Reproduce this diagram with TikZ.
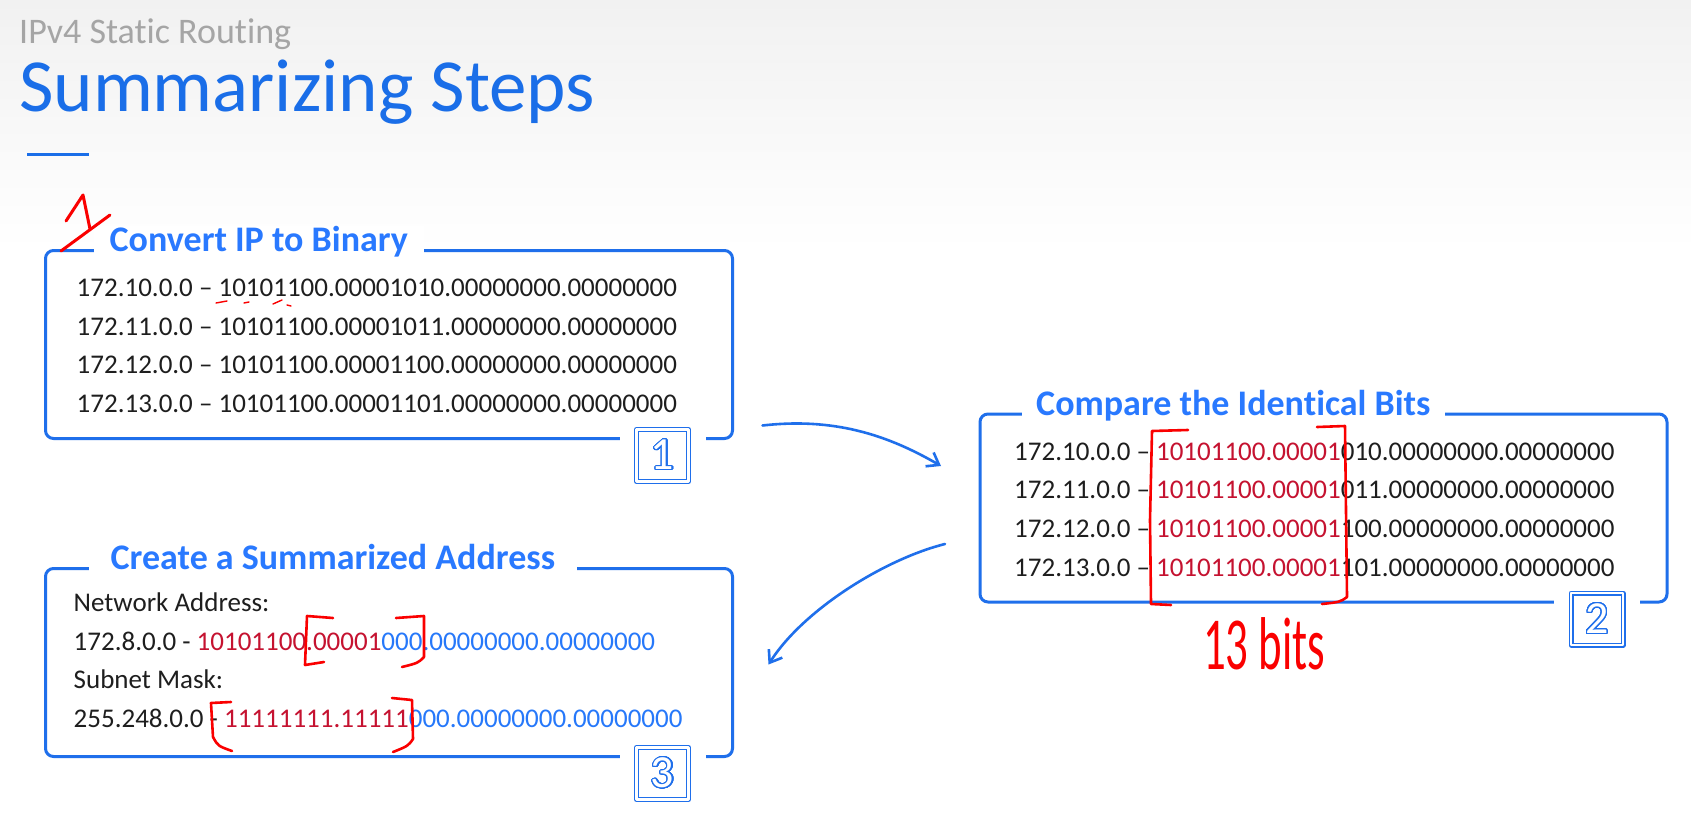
\documentclass[tikz,border=0pt]{standalone}
\usepackage{fontspec}
\setmainfont{Carlito}[Ligatures={TeX,NoCommon}]
\usepackage{graphicx}
\usepackage{contour}
\usetikzlibrary{calc,positioning,arrows.meta}

\definecolor{bgtop}{RGB}{241,241,241}
\definecolor{titlegray}{RGB}{165,165,165}
\definecolor{headblue}{RGB}{26,110,232}
\definecolor{boxblue}{RGB}{31,111,235}
\definecolor{labelblue}{RGB}{41,121,255}
\definecolor{bitblue}{RGB}{38,120,250}
\definecolor{bitred}{RGB}{197,18,48}
\definecolor{inkred}{RGB}{250,0,0}
\definecolor{textblack}{RGB}{30,30,30}
\contourlength{1.2pt}
\contournumber{32}

\begin{document}
\begin{tikzpicture}[
		x=1pt, y=-1pt,
		line join=round,
		panel/.style={
				draw=boxblue,
				line width=3pt,
				rounded corners=8pt,
				minimum width=687pt, minimum height=188pt,
				inner sep=0pt, outer sep=0pt
			},
		paneltitle/.style={fill=white, text=labelblue, font=\fontsize{36}{40}\selectfont\bfseries, inner xsep=16pt, inner ysep=0pt, text depth=9pt, anchor=base west},
		bitline/.style={font=\fontsize{27}{32}\selectfont, text=textblack, inner sep=0pt, anchor=base west},
		stepnum/.style={draw=boxblue, double=white, double distance=2.4pt, line width=1.3pt, fill=white, minimum size=52pt, inner sep=0pt, font=\fontsize{46}{50}\selectfont},
		linegap/.style={fill=white, minimum width=86pt, minimum height=7pt, inner sep=0pt},
		ink/.style={draw=inkred, line width=2.6pt, line cap=round},
		flow/.style={draw=boxblue, line width=2.6pt, line cap=round, -{Straight Barb[length=11pt,width=16pt]}}
	]

	% page
	\useasboundingbox (0,0) rectangle (1691,814);
	\fill[white] (0,0) rectangle (1691,814);
	\shade[top color=bgtop, bottom color=white] (0,0) rectangle (1691,250);

	% heading
	\node[anchor=base west, inner sep=0pt, text=titlegray, font=\fontsize{36}{40}\selectfont] (section) at (19,43) {IPv4 Static Routing};
	\node[anchor=base west, inner sep=0pt, text=headblue, font=\fontsize{75}{80}\selectfont] (heading) at (19,111) {Summarizing Steps};
	\draw[headblue, line width=3pt] ($(heading.base west)+(8,43)$) -- +(62,0);

	% the three panels
	\node[panel] (box1) at (389,344.5) {};
	\node[panel] (box2) at (1323.5,508) {};
	\node[panel, below=130pt of box1] (box3) {};

	\node[paneltitle] (title1) at ($(box1.north west)+(48,1)$) {Convert IP to Binary};
	\node[paneltitle, inner xsep=14pt] (title2) at ($(box2.north west)+(42,1)$) {Compare the Identical Bits};
	\node[paneltitle, inner xsep=22pt] (title3) at ($(box3.north west)+(43,1)$) {Create a Summarized Address};

	\foreach \i in {1,2,3} {
		\node[linegap] (gap\i) at ($(box\i.south east)+(-70,0)$) {};
		\node[stepnum] (num\i) at ($(box\i.south east)+(-70,17)$) {\color{white}\contour{boxblue}{\i}};
	}

	% step 1
	\foreach \ip/\bin [count=\i] in {172.10.0.0/10101100.00001010.00000000.00000000,
			172.11.0.0/10101100.00001011.00000000.00000000,
			172.12.0.0/10101100.00001100.00000000.00000000,
			172.13.0.0/10101100.00001101.00000000.00000000}
		\node[bitline] (conv\i) at ($(box1.north west)+(31,{46+38.7*(\i-1)})$) {\ip{} – \bin};

	% step 2
	\foreach \ip/\same/\rest [count=\i] in {172.10.0.0/10101100.00001/010.00000000.00000000,
			172.11.0.0/10101100.00001/011.00000000.00000000,
			172.12.0.0/10101100.00001/100.00000000.00000000,
			172.13.0.0/10101100.00001/101.00000000.00000000}
		\node[bitline] (cmp\i) at ($(box2.north west)+(34,{46+38.7*(\i-1)})$) {\ip{} – \textcolor{bitred}{\same}\rest};

	% step 3
	\node[bitline] (netlbl) at ($(box3.north west)+(28,43)$) {Network Address:};
	\node[bitline] (netaddr) at ($(netlbl.base west)+(0,39)$) {172.8.0.0 - \textcolor{bitred}{10101100.00001}\textcolor{bitblue}{000.00000000.00000000}};
	\node[bitline] (masklbl) at ($(netaddr.base west)+(0,38)$) {Subnet Mask:};
	\node[bitline] (mask) at ($(masklbl.base west)+(0,39)$) {255.248.0.0 - \textcolor{bitred}{11111111.11111}\textcolor{bitblue}{000.00000000.00000000}};

	% flow between steps
	\coordinate (leave1) at ($(box1.south east)+(30,-13)$);
	\coordinate (reach2) at ($(box2.west)+(-39,-42)$);
	\coordinate (leave2) at ($(box2.west)+(-35,36)$);
	\coordinate (reach3) at ($(box3.east)+(36,2)$);
	\draw[flow] (leave1) .. controls +(70,-8) and +(-55,-32) .. (reach2);
	\draw[flow] (leave2) .. controls +(-60,15) and +(35,-55) .. (reach3);

	% hand notes
	\draw[ink, line width=3pt] (66,221) -- (83,195) -- (90,229);
	\draw[ink, line width=3pt] (61,251) -- (110,215);
	\draw[ink, line width=1.4pt] (216,303) -- (227,301) (244,303) -- (249,302) (273,304) -- (282,300) (287,305) -- (291,306);

	\draw[ink] (1188,430) -- (1152,431) -- (1150,520) -- (1151,604) -- (1171,605);
	\draw[ink] (1317,427) -- (1345,426) -- (1347,597) .. controls (1340,602) .. (1322,604);
	\node[anchor=base west, inner sep=0pt, text=inkred, font=\fontsize{44}{50}\selectfont] (bitcount) at (1203,669) {\scalebox{1.02}[1.7]{13 bits}};

	\draw[ink] (333,618) -- (307,616) -- (305,665) -- (324,662);
	\draw[ink] (396,618) -- (424,616) -- (424,657) .. controls (418,663) .. (402,667);
	\draw[ink] (231,702) -- (211,703) -- (213,737) .. controls (218,746) .. (232,751);
	\draw[ink] (392,698) -- (412,700) -- (413,739) .. controls (408,746) .. (393,752);
\end{tikzpicture}
\end{document}
